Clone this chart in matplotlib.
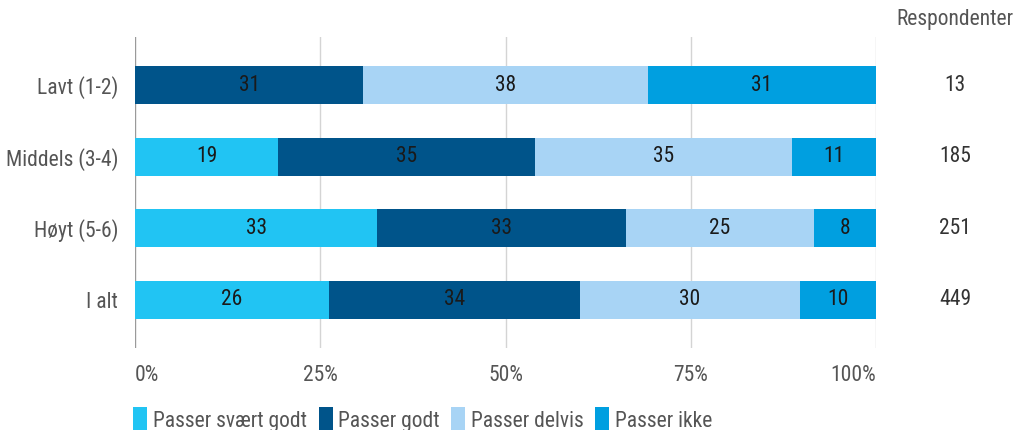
import numpy as np
import matplotlib.pyplot as plt
from matplotlib.patches import Patch
from matplotlib.transforms import blended_transform_factory

plt.rcParams['font.family'] = ['Roboto Condensed', 'Roboto', 'DejaVu Sans']

categories = ['Lavt (1-2)', 'Middels (3-4)', 'Høyt (5-6)', 'I alt']
respondents = [13, 185, 251, 449]
series = ['Passer svært godt', 'Passer godt', 'Passer delvis', 'Passer ikke']
# shares in percent
svaert_godt = [0.0, 19.3, 32.7, 26.2]
godt = [30.8, 34.7, 33.5, 33.9]
delvis = [38.4, 34.7, 25.5, 29.6]
ikke = [30.8, 11.3, 8.3, 10.3]
# printed labels
lab_svaert_godt = [None, 19, 33, 26]
lab_godt = [31, 35, 33, 34]
lab_delvis = [38, 35, 25, 30]
lab_ikke = [31, 11, 8, 10]

colors = ['#21c4f3', '#00548a', '#a8d4f5', '#009fe0']
values = [svaert_godt, godt, delvis, ikke]
labels = [lab_svaert_godt, lab_godt, lab_delvis, lab_ikke]
fs = 15.5

fig = plt.figure(figsize=(10.14, 4.3), dpi=100)
ax = fig.add_axes([135/1014, 1-348/430, 741/1014, 311/430])

y = np.arange(len(categories))
left = np.zeros(len(categories))
for vals, labs, col in zip(values, labels, colors):
    vals = np.array(vals)
    ax.barh(y, vals, left=left, height=0.53, color=col, zorder=2)
    for yi, l, v, lb in zip(y, left, vals, labs):
        if lb is not None and v > 0:
            ax.text(l + v/2, yi, str(lb), ha='center', va='center',
                    fontsize=fs, color='#1a1a1a', zorder=3)
    left += vals

ax.set_xlim(0, 100)
ax.set_ylim(len(categories) - 1 + 0.67, -0.67)
ax.set_yticks(y)
ax.set_yticklabels(categories, fontsize=fs, color='#555555')
ax.set_xticks([0, 25, 50, 75, 100])
ax.set_xticklabels(['0%', '25%', '50%', '75%', '100%'], fontsize=fs, color='#555555')
xt = ax.get_xticklabels()
xt[0].set_ha('left')
xt[-1].set_ha('right')
ax.tick_params(axis='x', length=0, pad=12)
ax.tick_params(axis='y', length=0, pad=12)
for s in ax.spines.values():
    s.set_visible(False)
for xv in [25, 50, 75, 100]:
    ax.axvline(xv, color='#d4d4d4', lw=1, zorder=1)
ax.axvline(0, color='#9a9a9a', lw=1, zorder=1)

tr = blended_transform_factory(ax.transAxes, ax.transData)
xr = (955 - 135) / 741
ax.text(xr, -0.67 - 0.24, 'Respondenter', transform=tr, ha='center', va='center',
        fontsize=fs, color='#555555')
for yi, n in zip(y, respondents):
    ax.text(xr, yi, str(n), transform=tr, ha='center', va='center',
            fontsize=fs, color='#333333')

handles = [Patch(facecolor=c, edgecolor='none') for c in colors]
fig.legend(handles, series, loc='lower left', bbox_to_anchor=(114/1014, -0.05),
           ncol=4, frameon=False, fontsize=fs, handlelength=0.65, handleheight=1.4,
           handletextpad=0.25, columnspacing=0.55, labelcolor='#555555')

fig.savefig('out.png', dpi=100)
